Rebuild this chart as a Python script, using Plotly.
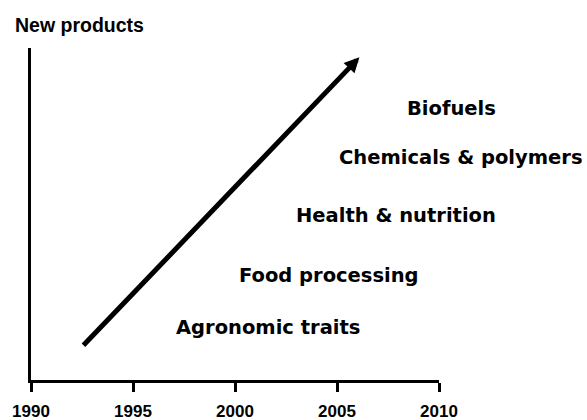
import plotly.graph_objects as go

# Data
year_ticks = [1990, 1995, 2000, 2005, 2010]
tick_labels = ["1990", "1995", "2000", "2005", "2010"]
arrow_x = [1992.5, 2006.1]
arrow_y = [10.0, 97.2]
categories = ["Agronomic traits", "Food processing", "Health & nutrition",
              "Chemicals & polymers", "Biofuels"]
cat_x = [2001.6, 2004.6, 2007.9, 2011.1, 2010.6]
cat_y = [15.7, 31.6, 49.7, 66.9, 81.9]

x_range = [year_ticks[0], year_ticks[-1]]

fig = go.Figure()
fig.add_trace(go.Scatter(x=x_range, y=[0, 0], mode="lines",
                         line=dict(color="rgba(0,0,0,0)"), hoverinfo="skip",
                         showlegend=False))

# arrow
fig.add_annotation(x=arrow_x[1], y=arrow_y[1], ax=arrow_x[0], ay=arrow_y[0],
                   xref="x", yref="y", axref="x", ayref="y",
                   showarrow=True, arrowhead=2, arrowsize=0.6, arrowwidth=5,
                   arrowcolor="black", text="")

# category labels (x mapped to paper fraction so labels past 2010 stay visible)
label_font = dict(family="DejaVu Sans", size=19.5, color="black", weight="bold")
for name, xx, yy in zip(categories, cat_x, cat_y):
    px = (xx - x_range[0]) / (x_range[1] - x_range[0])
    fig.add_annotation(x=px, y=yy, xref="paper", yref="y", text=name, showarrow=False,
                       xanchor="center", yanchor="middle", font=label_font)

fig.add_annotation(x=-0.044, y=1.069, xref="paper", yref="paper", text="New products",
                   showarrow=False, xanchor="left", yanchor="middle",
                   font=dict(family="Liberation Sans", size=19.5, color="black", weight="bold"))

fig.update_xaxes(range=x_range, tickvals=year_ticks, ticktext=tick_labels,
                 showgrid=False, zeroline=False, showline=True, linecolor="black",
                 linewidth=3, ticks="outside", ticklen=9, tickwidth=3, tickcolor="black",
                 ticklabelstandoff=5, automargin=False,
                 tickfont=dict(family="Liberation Sans", size=17, color="black",
                               weight="bold"))
fig.update_yaxes(range=[0, 100], showgrid=False, zeroline=False, showline=True,
                 linecolor="black", linewidth=3, showticklabels=False, ticks="",
                 automargin=False)

fig.update_layout(width=587, height=420, margin=dict(l=31, r=148, t=48, b=40),
                  paper_bgcolor="white", plot_bgcolor="white", showlegend=False)

fig.write_html("out.html", config={"displayModeBar": False},
               post_script="document.body.style.margin='0';")
